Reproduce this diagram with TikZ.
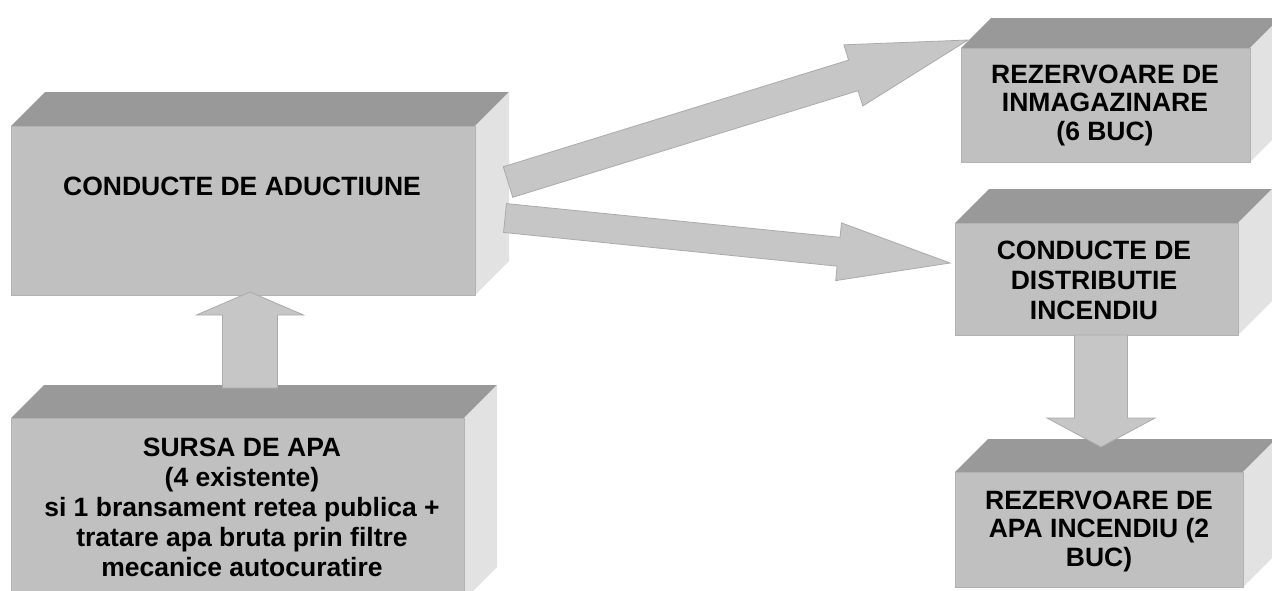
\documentclass[tikz,border=0pt]{standalone}
\usepackage{fontspec}
\setmainfont{Liberation Sans}
\usetikzlibrary{calc}
\definecolor{frontgray}{HTML}{C0C0C0}
\definecolor{topgray}{HTML}{999999}
\definecolor{sidegray}{HTML}{E2E2E2}
\definecolor{arrowfill}{HTML}{C6C6C6}
\definecolor{arrowedge}{HTML}{ABABAB}
\definecolor{edgegray}{HTML}{B2B2B2}
\tikzset{
  front/.style={rectangle, fill=frontgray, draw=edgegray, line width=0.8pt, inner sep=0pt, outer sep=0pt},
  topface/.style={fill=topgray},
  sideface/.style={fill=sidegray},
  boxtext/.style={font=\bfseries\fontsize{26.5}{30}\selectfont, align=center, inner sep=0pt},
  boxtextsm/.style={font=\bfseries\fontsize{26.5}{28.5}\selectfont, align=center, inner sep=0pt},
  blockarrow/.style={fill=arrowfill, draw=arrowedge, line width=0.8pt, line join=miter}
}
% #1 name, #2 x1, #3 y1, #4 x2, #5 y2, #6 depth
\newcommand\solidbox[6]{%
  \fill[topface] (#2,#3) -- ++(#6,-#6) -- ++({#4-#2},0) -- (#4,#3) -- cycle;
  \fill[sideface] (#4,#3) -- ++(#6,-#6) -- ++(0,{#5-#3}) -- (#4,#5) -- cycle;
  \node[front, anchor=north west, minimum width={(#4-#2)*1pt}, minimum height={(#5-#3)*1pt}] (#1) at (#2,#3) {};
}
% #1 tail, #2 head, #3 half shaft, #4 half head, #5 head length
\newcommand\blockarr[5]{%
  \coordinate (ba-n) at ($(#2)!#5!(#1)$);
  \filldraw[blockarrow] ($(#1)!#3!90:(#2)$) -- ($(ba-n)!#3!90:(#2)$) -- ($(ba-n)!#4!90:(#2)$) -- (#2)
    -- ($(ba-n)!#4!-90:(#2)$) -- ($(ba-n)!#3!-90:(#2)$) -- ($(#1)!#3!-90:(#2)$) -- cycle;
}
\begin{document}
\begin{tikzpicture}[x=1pt,y=-1pt]
\useasboundingbox (0,0) rectangle (1272,590);
\clip (0,0) rectangle (1272,590);
\fill[white] (0,0) rectangle (1272,590);

\solidbox{b1}{11}{126}{475}{295}{34}
\solidbox{b2}{11}{418}{464}{600}{33}
\solidbox{b3}{961}{48}{1250}{162}{30}
\solidbox{b4}{955}{223}{1238}{335}{34}
\solidbox{b5}{955}{472}{1243}{587}{33}

\node[boxtext] (t1) at (242,186) {CONDUCTE DE ADUCTIUNE};
\node[boxtext] (t2) at (242,507) {SURSA DE APA\\(4 existente)\\si 1 bransament retea publica +\\tratare apa bruta prin filtre\\mecanice autocuratire};
\node[boxtextsm] (t3) at (1105,105) {REZERVOARE DE\\INMAGAZINARE\\(6 BUC)};
\node[boxtext] (t4) at (1094,280) {CONDUCTE DE\\DISTRIBUTIE\\INCENDIU};
\node[boxtextsm] (t5) at (1099,531) {REZERVOARE DE\\APA INCENDIU (2\\BUC)};

\coordinate (a1t) at (508,182);
\coordinate (a1h) at (968,40);
\coordinate (a2t) at (505,218);
\coordinate (a2h) at (950,263);
\coordinate (a3t) at (250,388);
\coordinate (a3h) at (250,292);
\coordinate (a4t) at (1101,335);
\coordinate (a4h) at (1101,447);

\blockarr{a1t}{a1h}{16pt}{32pt}{120pt}
\blockarr{a2t}{a2h}{14.5pt}{29pt}{112pt}
\blockarr{a3t}{a3h}{27.5pt}{53.5pt}{23pt}
\blockarr{a4t}{a4h}{26.5pt}{54pt}{29pt}
\end{tikzpicture}
\end{document}
